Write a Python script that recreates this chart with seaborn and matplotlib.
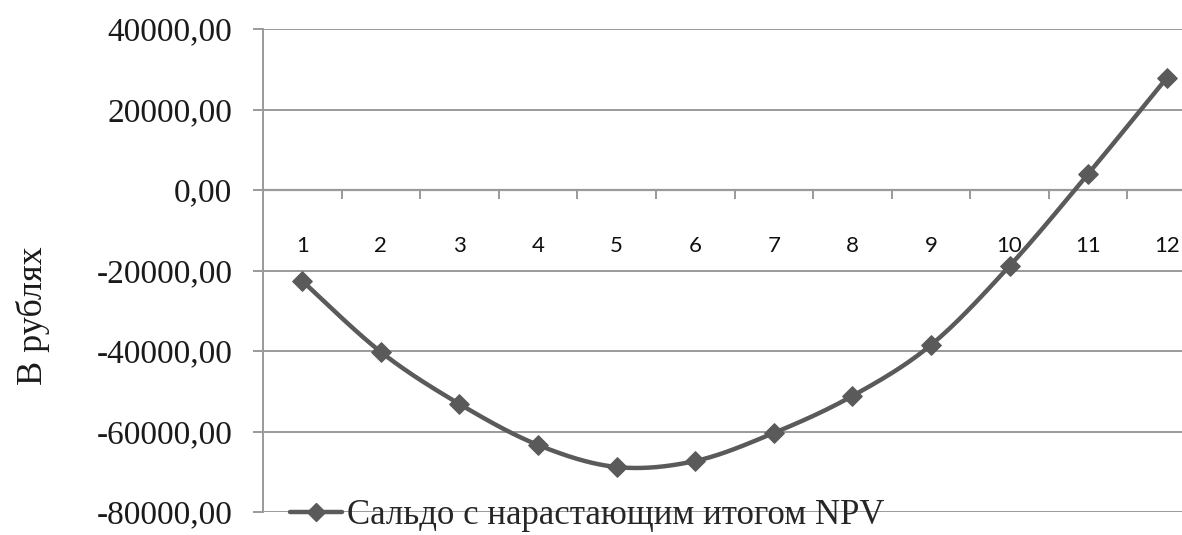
import numpy as np
import pandas as pd
import matplotlib
matplotlib.use("Agg")
import matplotlib.pyplot as plt
from matplotlib.lines import Line2D
from matplotlib.ticker import FixedLocator, FuncFormatter
import seaborn as sns

# Cumulative NPV balance by period, roubles
periods = [1, 2, 3, 4, 5, 6, 7, 8, 9, 10, 11, 12]
period_labels = ["1", "2", "3", "4", "5", "6", "7", "8", "9", "10", "11", "12"]
npv_balance = [-22600, -40250, -53170, -63350, -68820, -67330,
               -60370, -51180, -38510, -18880, 3975, 27830]
y_ticks = [-80000, -60000, -40000, -20000, 0, 20000, 40000]
series_name = "Сальдо с нарастающим итогом NPV"
y_title = "В рублях"

LINE_COLOR = "#5a5a5a"
GRID_COLOR = "#9a9a9a"
SERIF = ["Liberation Serif", "DejaVu Serif"]


def smooth_curve(x, y, steps=40):
    """Cubic Bezier smoothing through every point (Catmull-Rom tangents)."""
    p = np.column_stack([x, y]).astype(float)
    ext = np.vstack([p[0], p, p[-1]])
    out = []
    t = np.linspace(0, 1, steps)[:, None]
    for i in range(len(p) - 1):
        p0, p1, p2, p3 = ext[i], ext[i + 1], ext[i + 2], ext[i + 3]
        c1 = p1 + (p2 - p0) / 6.0
        c2 = p2 - (p3 - p1) / 6.0
        seg = ((1 - t) ** 3) * p1 + 3 * ((1 - t) ** 2) * t * c1 \
            + 3 * (1 - t) * t ** 2 * c2 + t ** 3 * p2
        out.append(seg if i == 0 else seg[1:])
    out = np.vstack(out)
    return out[:, 0], out[:, 1]


df = pd.DataFrame({"period": periods, "npv": npv_balance})
cx, cy = smooth_curve(df["period"].values, df["npv"].values)
curve = pd.DataFrame({"period": cx, "npv": cy})

sns.set_theme(style="white")
plt.rcParams["font.family"] = ["Lato", "DejaVu Sans"]

W, H = 1182, 535
fig = plt.figure(figsize=(W / 100, H / 100), dpi=100)
fig.patch.set_facecolor("white")
left_px, right_px, top_px, bottom_px = 263, 1206, 29, 512
ax = fig.add_axes([left_px / W, (H - bottom_px) / H,
                   (right_px - left_px) / W, (bottom_px - top_px) / H])
ax.set_facecolor("white")

ax.set_xlim(0.5, 12.5)
ax.set_ylim(-80000, 40000)

# horizontal gridlines
ax.yaxis.set_major_locator(FixedLocator(y_ticks))
ax.grid(axis="y", color=GRID_COLOR, linewidth=1.4)
ax.grid(axis="x", visible=False)
ax.set_axisbelow(True)

sns.lineplot(data=curve, x="period", y="npv", sort=False, estimator=None,
             color=LINE_COLOR, linewidth=3.2, ax=ax, zorder=3)
sns.scatterplot(data=df, x="period", y="npv", marker="D", s=100,
                color=LINE_COLOR, edgecolor=LINE_COLOR, linewidth=0.8,
                ax=ax, zorder=4)

# spines: left value axis, category axis through zero
for side in ("top", "right"):
    ax.spines[side].set_visible(False)
ax.spines["left"].set_color(GRID_COLOR)
ax.spines["left"].set_linewidth(1.4)
ax.spines["bottom"].set_position(("data", 0))
ax.spines["bottom"].set_color(GRID_COLOR)
ax.spines["bottom"].set_linewidth(1.6)

# y ticks
ax.yaxis.set_major_formatter(FuncFormatter(
    lambda v, _: f"{v:.2f}".replace(".", ",")))
ax.tick_params(axis="y", which="major", direction="out", length=7,
               width=1.4, color=GRID_COLOR, pad=15, left=True)
for lab in ax.get_yticklabels():
    lab.set_fontfamily(SERIF)
    lab.set_fontsize(24)
    lab.set_color("#1a1a1a")

# category ticks at the boundaries, labels centred under each period
ax.xaxis.set_major_locator(FixedLocator(periods))
ax.set_xticklabels(period_labels)
ax.xaxis.set_minor_locator(FixedLocator(np.arange(1.5, 12.5, 1.0)))
ax.tick_params(axis="x", which="major", length=0, pad=33,
               labelsize=16, labelcolor="#111111", bottom=True)
ax.tick_params(axis="x", which="minor", direction="out", length=6.5,
               width=1.4, color=GRID_COLOR, bottom=True)
ax.set_xlabel("")
ax.set_ylabel("")

fig.text(33 / W, (H - 316) / H, y_title, rotation=90, ha="center",
         va="center", fontsize=26, family=SERIF, color="#1a1a1a")

handle = Line2D([], [], color=LINE_COLOR, linewidth=3.2, marker="D",
                markersize=9.5, markerfacecolor=LINE_COLOR,
                markeredgecolor=LINE_COLOR)
fig.legend([handle], [series_name], loc="center left",
           bbox_to_anchor=(290 / W, (H - 516) / H),
           bbox_transform=fig.transFigure, frameon=False,
           handlelength=1.5, handletextpad=0.15, borderpad=0,
           borderaxespad=0,
           prop={"family": SERIF, "size": 25})

fig.savefig("out.png", dpi=100, facecolor="white")
